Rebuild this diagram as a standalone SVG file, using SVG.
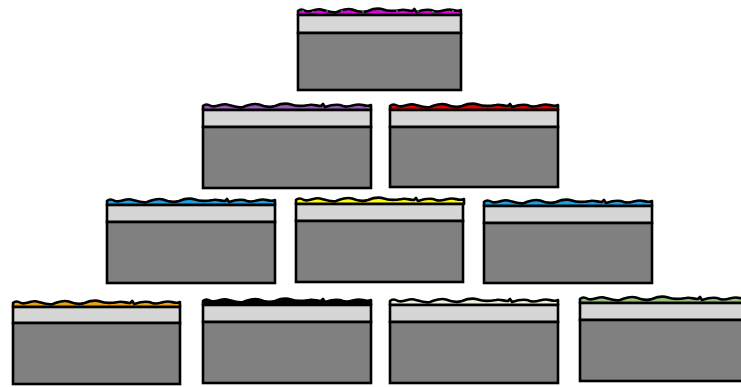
<svg xmlns="http://www.w3.org/2000/svg" xmlns:xlink="http://www.w3.org/1999/xlink" width="741" height="387" viewBox="0 0 741 387">
<style>
.band{fill:#d6d6d6;stroke:#000;stroke-width:2.6}
.body{fill:#808080;stroke:#000;stroke-width:2.6}
.wave{stroke:#000;stroke-width:2.6;stroke-linejoin:round}
.dot{fill:#2e8b3a}
</style>
<defs>
<path id="w" d="M0,0 L0,-4 Q3,-7 8,-4 C14,-2 18,-7 24,-5.5 C30,-4 34,-2 40,-3 C46,-5 50,-7.5 56,-5.5 C62,-3 66,-2 72,-4 C78,-6.5 82,-7.5 88,-5.5 C94,-3 100,-4 106,-5 C110,-6 114,-4 118,-4 L120,-6 L122,-3 C128,-5 134,-6.5 140,-4 C146,-2 150,-5.5 156,-5.5 C160,-5.5 164,-3 168,-5 L168,0 Z"/>
</defs>
<rect width="741" height="387" fill="#fff"/>
<g id="block1" transform="translate(298,15)">
<use href="#w" class="wave" fill="#e000e0" transform="scale(0.97,1)"/>
<rect class="band" x="0" y="0" width="163" height="18"/>
<rect class="body" x="0" y="18" width="163" height="57"/>
<g class="dot"><circle cx="5" cy="-4" r="1.1"/><circle cx="15" cy="-3" r="1.1"/><circle cx="29" cy="-4" r="1.1"/><circle cx="44" cy="-4" r="1.1"/><circle cx="65" cy="-3" r="1.1"/><circle cx="83" cy="-4" r="1.1"/><circle cx="99" cy="-4" r="1.1"/><circle cx="120" cy="-4" r="1.1"/><circle cx="135" cy="-3" r="1.1"/><circle cx="155" cy="-4" r="1.1"/></g>
</g>
<g id="block2" transform="translate(203,110)">
<use href="#w" class="wave" fill="#9b59b6"/>
<rect class="band" x="0" y="0" width="168" height="17"/>
<rect class="body" x="0" y="17" width="168" height="61"/>
</g>
<g id="block3" transform="translate(390,110)">
<use href="#w" class="wave" fill="#e00000"/>
<rect class="band" x="0" y="0" width="168" height="17"/>
<rect class="body" x="0" y="17" width="168" height="60"/>
</g>
<g id="block4" transform="translate(107,205)">
<use href="#w" class="wave" fill="#1ba1e2"/>
<rect class="band" x="0" y="0" width="168" height="17"/>
<rect class="body" x="0" y="17" width="168" height="61"/>
</g>
<g id="block5" transform="translate(296,204)">
<use href="#w" class="wave" fill="#ffff00"/>
<rect class="band" x="0" y="0" width="167" height="17"/>
<rect class="body" x="0" y="17" width="167" height="61"/>
</g>
<g id="block6" transform="translate(484,206)">
<use href="#w" class="wave" fill="#1ba1e2"/>
<rect class="band" x="0" y="0" width="168" height="17"/>
<rect class="body" x="0" y="17" width="168" height="60"/>
</g>
<g id="block7" transform="translate(13,307)">
<use href="#w" class="wave" fill="#f0a30a" transform="scale(0.994,1)"/>
<rect class="band" x="0" y="0" width="167" height="16"/>
<rect class="body" x="0" y="16" width="167" height="61"/>
</g>
<g id="block8" transform="translate(203,305)">
<use href="#w" class="wave" fill="#000000"/>
<rect class="band" x="0" y="0" width="168" height="17"/>
<rect class="body" x="0" y="17" width="168" height="61"/>
</g>
<g id="block9" transform="translate(390,305)">
<use href="#w" class="wave" fill="#eef2dc"/>
<rect class="band" x="0" y="0" width="168" height="17"/>
<rect class="body" x="0" y="17" width="168" height="61"/>
</g>
<g id="block10" transform="translate(580,303)">
<use href="#w" class="wave" fill="#93c47d"/>
<rect class="band" x="0" y="0" width="170" height="17"/>
<rect class="body" x="0" y="17" width="170" height="61"/>
</g>
<g id="connectors"/>
</svg>
